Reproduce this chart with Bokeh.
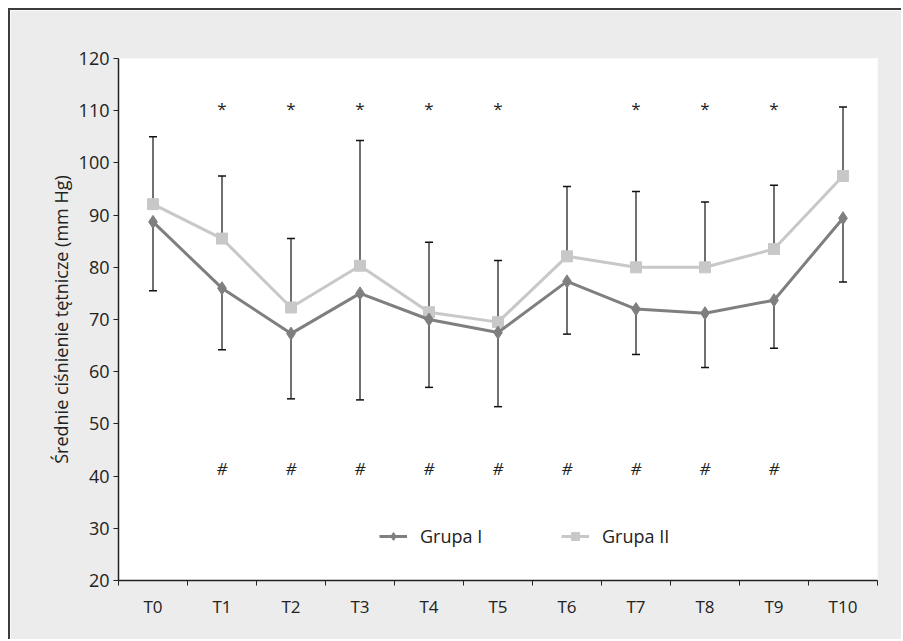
from bokeh.plotting import figure
from bokeh.models import (FixedTicker, Whisker, ColumnDataSource, TeeHead, Legend, LegendItem)
from bokeh.core.properties import value
from bokeh.embed import file_html
from bokeh.resources import INLINE

categories = ["T0", "T1", "T2", "T3", "T4", "T5", "T6", "T7", "T8", "T9", "T10"]
grupa1 = [88.7, 76.0, 67.3, 75.0, 70.0, 67.5, 77.3, 72.0, 71.2, 73.7, 89.4]
grupa1_lower = [75.5, 64.2, 54.8, 54.6, 57.0, 53.3, 67.2, 63.3, 60.8, 64.5, 77.2]
grupa2 = [92.1, 85.5, 72.3, 80.3, 71.4, 69.5, 82.1, 80.0, 80.0, 83.5, 97.5]
grupa2_upper = [105.0, 97.5, 85.5, 104.3, 84.8, 81.3, 95.5, 94.5, 92.5, 95.7, 110.7]
star_idx = [1, 2, 3, 4, 5, 7, 8, 9]
star_y = [110.5] * len(star_idx)
hash_idx = [1, 2, 3, 4, 5, 6, 7, 8, 9]
hash_y = [41.5] * len(hash_idx)

FONT = "Open Sans"
x = list(range(len(categories)))

p = figure(width=893, height=631, output_backend="svg", toolbar_location=None,
           x_range=(-0.5, len(categories) - 0.5), y_range=(20, 120),
           min_border_left=108, min_border_right=26, min_border_top=48, min_border_bottom=61)
p.border_fill_color = "#ebeceb"
p.background_fill_color = "white"
p.outline_line_color = None
p.grid.visible = False
p.styles = {"border-left": "2px solid #3c3c3c", "border-top": "2px solid #3c3c3c",
            "margin-left": "8px", "margin-top": "8px"}

# x axis: labels at centres, ticks at boundaries (minor)
p.xaxis.ticker = FixedTicker(ticks=x, minor_ticks=[i - 0.5 for i in range(len(categories) + 1)])
p.xaxis.major_label_overrides = {i: c for i, c in enumerate(categories)}
p.xaxis.major_tick_in = 0
p.xaxis.major_tick_out = 0
p.xaxis.minor_tick_in = 0
p.xaxis.minor_tick_out = 5
p.xaxis.minor_tick_line_color = "#222222"
p.xaxis.axis_line_color = "#222222"
p.xaxis.axis_line_width = 1.5
p.xaxis.major_label_text_font = FONT
p.xaxis.major_label_text_font_size = "17px"
p.xaxis.major_label_text_color = "#222222"
p.xaxis.major_label_standoff = 9

p.yaxis.ticker = FixedTicker(ticks=list(range(20, 121, 10)))
p.yaxis.major_tick_in = 0
p.yaxis.major_tick_out = 5
p.yaxis.minor_tick_line_color = None
p.yaxis.axis_line_color = "#222222"
p.yaxis.axis_line_width = 1.5
p.yaxis.major_tick_line_color = "#222222"
p.yaxis.major_label_text_font = FONT
p.yaxis.major_label_text_font_size = "18px"
p.yaxis.major_label_text_color = "#222222"
p.yaxis.major_label_standoff = 4
p.yaxis.axis_label = "Średnie ciśnienie tętnicze (mm Hg)"
p.yaxis.axis_label_text_font = FONT
p.yaxis.axis_label_text_font_size = "18px"
p.yaxis.axis_label_text_font_style = "normal"
p.yaxis.axis_label_text_color = "#222222"
p.yaxis.axis_label_standoff = 3

# error bars
src2 = ColumnDataSource(dict(x=x, base=grupa2, upper=grupa2_upper))
src1 = ColumnDataSource(dict(x=x, base=grupa1, lower=grupa1_lower))
w2 = Whisker(source=src2, base="x", lower="base", upper="upper", dimension="height",
             line_color="#111111", line_width=1.2,
             upper_head=TeeHead(size=8, line_color="#111111", line_width=1.5), lower_head=None)
w1 = Whisker(source=src1, base="x", lower="lower", upper="base", dimension="height",
             line_color="#111111", line_width=1.2,
             lower_head=TeeHead(size=8, line_color="#111111", line_width=1.5), upper_head=None)
p.add_layout(w2)
p.add_layout(w1)

c1 = "#7f7f7f"
c2 = "#c8c8c9"
l2 = p.line(x, grupa2, line_color=c2, line_width=3)
s2 = p.scatter(x, grupa2, marker="square", size=11, fill_color=c2, line_color=c2)
l1 = p.line(x, grupa1, line_color=c1, line_width=3)
s1 = p.scatter(x, grupa1, marker="diamond", size=13, fill_color=c1, line_color=c1)

p.text(star_idx, star_y, text=["*"] * len(star_idx), text_font=value(FONT),
       text_font_size="17px", text_align="center", text_baseline="middle", text_color="#222222")
p.text(hash_idx, hash_y, text=["#"] * len(hash_idx), text_font=value(FONT),
       text_font_size="17px", text_font_style="italic", text_align="center",
       text_baseline="middle", text_color="#222222")

legend = Legend(items=[LegendItem(label="Grupa I", renderers=[l1, s1]),
                       LegendItem(label="Grupa II", renderers=[l2, s2])],
                orientation="horizontal", location=(261, 32))
legend.border_line_color = None
legend.background_fill_alpha = 0
legend.glyph_width = 28
legend.label_standoff = 13
legend.label_width = 141
legend.spacing = 0
legend.label_text_font = FONT
legend.label_text_font_size = "18px"
legend.label_text_color = "#222222"
p.add_layout(legend, "center")

open("out.html", "w").write(file_html(p, INLINE))
